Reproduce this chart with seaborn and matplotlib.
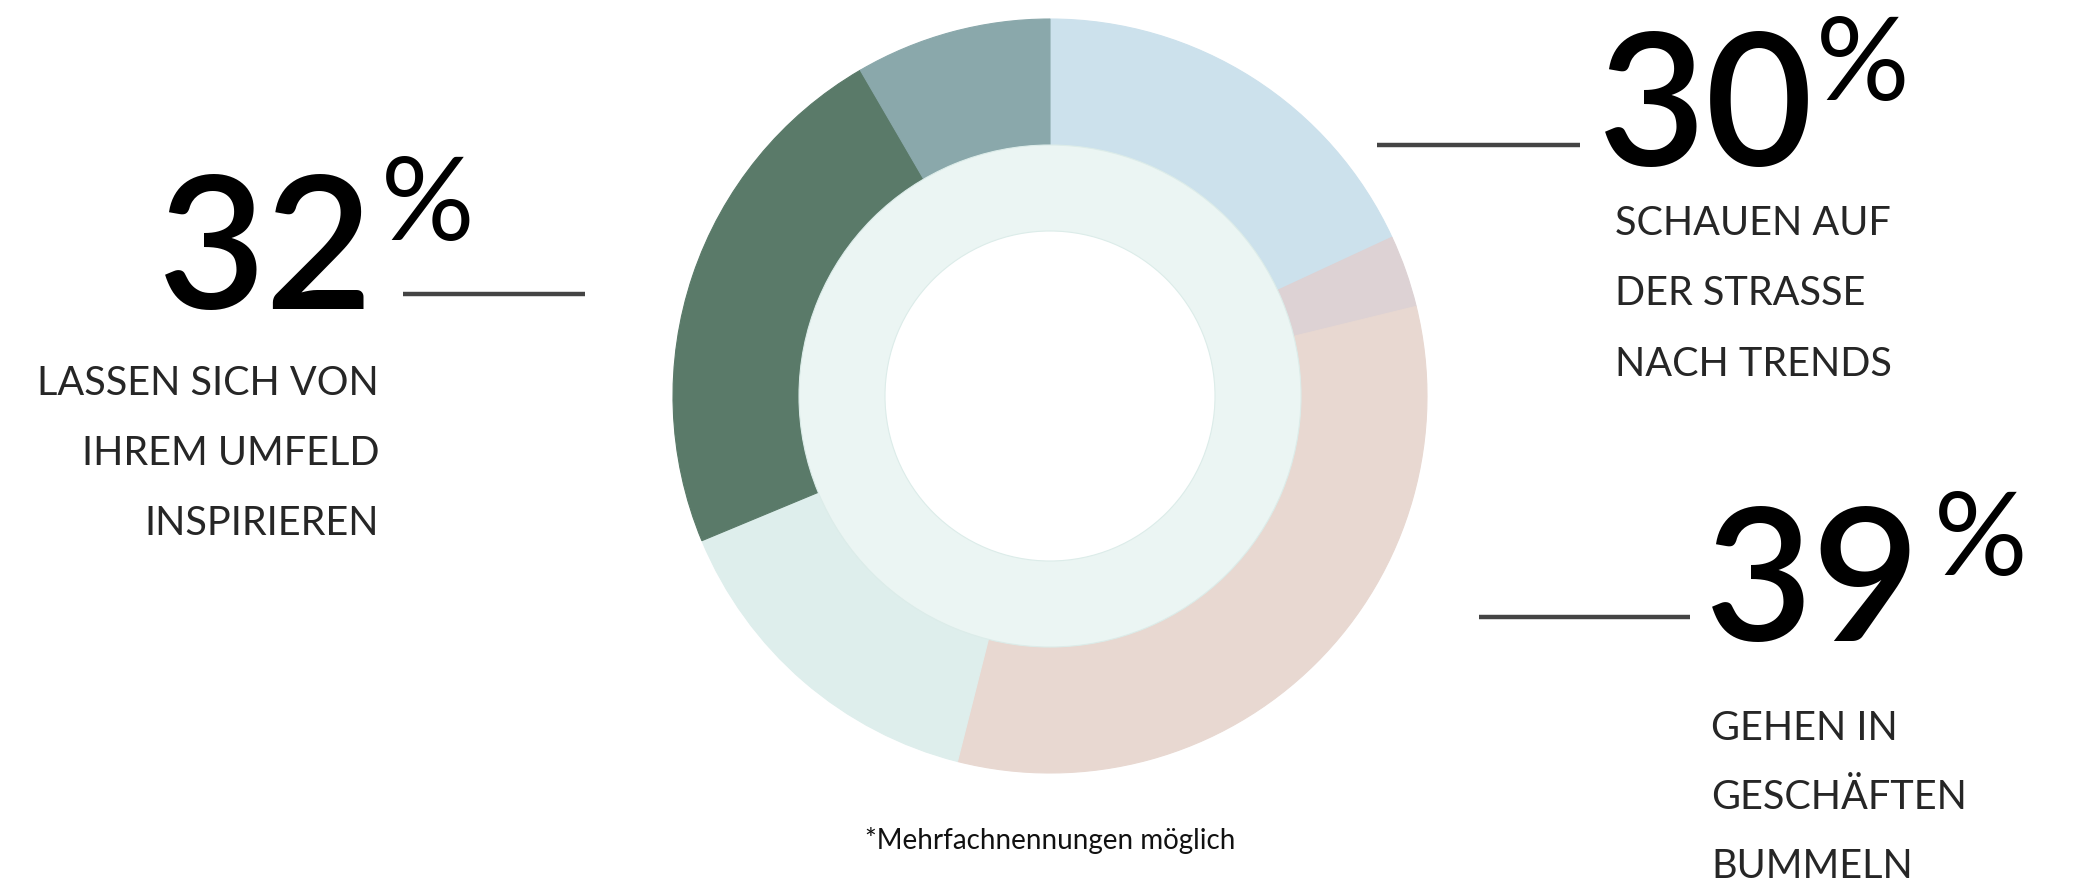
import matplotlib
matplotlib.use("Agg")
import matplotlib.pyplot as plt
import seaborn as sns

# Donut segments, clockwise from 12 o'clock (share of the ring in %)
segment_names = ["Strasse", "Sonstiges", "Geschäfte", "Online", "Umfeld", "Medien"]
segment_values = [18.1, 3.1, 32.8, 14.8, 22.9, 8.4]
segment_colors = ["#cce1ec", "#ddd2d4", "#e8d8d1", "#deeeec", "#5a7a69", "#8aa8ab"]
inner_color = "#ebf5f3"

# Callouts
callout_values = ["32", "30", "39"]
callout_labels = [
    ["LASSEN SICH VON", "IHREM UMFELD", "INSPIRIEREN"],
    ["SCHAUEN AUF", "DER STRASSE", "NACH TRENDS"],
    ["GEHEN IN", "GESCHÄFTEN", "BUMMELN"],
]
footnote = "*Mehrfachnennungen möglich"

W, H = 2086, 886
sns.set_theme(style="white")
plt.rcParams["font.family"] = ["Lato", "DejaVu Sans"]

fig = plt.figure(figsize=(W / 100, H / 100), dpi=100)
fig.patch.set_facecolor("white")


def fx(x):
    return x / W


def fy(y):
    return 1 - y / H


# donut axes (center and outer radius in pixels)
cx, cy, R = 1050, 396, 377
ax = fig.add_axes([fx(cx - R), fy(cy + R), 2 * R / W, 2 * R / H])
wedges, _ = ax.pie(segment_values, colors=segment_colors, startangle=90, counterclock=False,
                   radius=1.0, wedgeprops=dict(width=1 - 251 / R, linewidth=0.8))
for w, c in zip(wedges, segment_colors):
    w.set_edgecolor(c)
ax.pie([1], colors=[inner_color], radius=251 / R,
       wedgeprops=dict(width=(251 - 165) / R, edgecolor="#dcece9", linewidth=0.8))
ax.set_xlim(-1, 1)
ax.set_ylim(-1, 1)
ax.set_aspect("equal")
ax.axis("off")

big = 134
pct = 84
lab = 28.5
line_kw = dict(color="#444444", linewidth=3.2, solid_capstyle="butt")

# left callout: 32%
fig.text(fx(374), fy(309), callout_values[0], ha="right", va="baseline",
         fontsize=big, fontweight="semibold", color="black")
fig.text(fx(381), fy(240), "%", ha="left", va="baseline", fontsize=pct, color="black")
fig.add_artist(plt.Line2D([fx(403), fx(585)], [fy(294), fy(294)], **line_kw))
for i, t in enumerate(callout_labels[0]):
    fig.text(fx(379), fy(395 + i * 70), t, ha="right", va="baseline", fontsize=lab)

# right top callout: 30%
fig.text(fx(1598), fy(166), callout_values[1], ha="left", va="baseline",
         fontsize=big, fontweight="semibold", color="black")
fig.text(fx(1816), fy(100), "%", ha="left", va="baseline", fontsize=pct, color="black")
fig.add_artist(plt.Line2D([fx(1377), fx(1580)], [fy(145), fy(145)], **line_kw))
for i, t in enumerate(callout_labels[1]):
    fig.text(fx(1615), fy(235 + i * 70.5), t, ha="left", va="baseline", fontsize=lab)

# right bottom callout: 39%
fig.text(fx(1705), fy(641), callout_values[2], ha="left", va="baseline",
         fontsize=big, fontweight="semibold", color="black")
fig.text(fx(1934), fy(575), "%", ha="left", va="baseline", fontsize=pct, color="black")
fig.add_artist(plt.Line2D([fx(1479), fx(1690)], [fy(617), fy(617)], **line_kw))
for i, t in enumerate(callout_labels[2]):
    fig.text(fx(1711), fy(740 + i * 69), t, ha="left", va="baseline", fontsize=lab)

fig.text(fx(1050), fy(849), footnote, ha="center", va="baseline", fontsize=20, color="#111111")

fig.savefig("out.png", dpi=100, facecolor="white")
